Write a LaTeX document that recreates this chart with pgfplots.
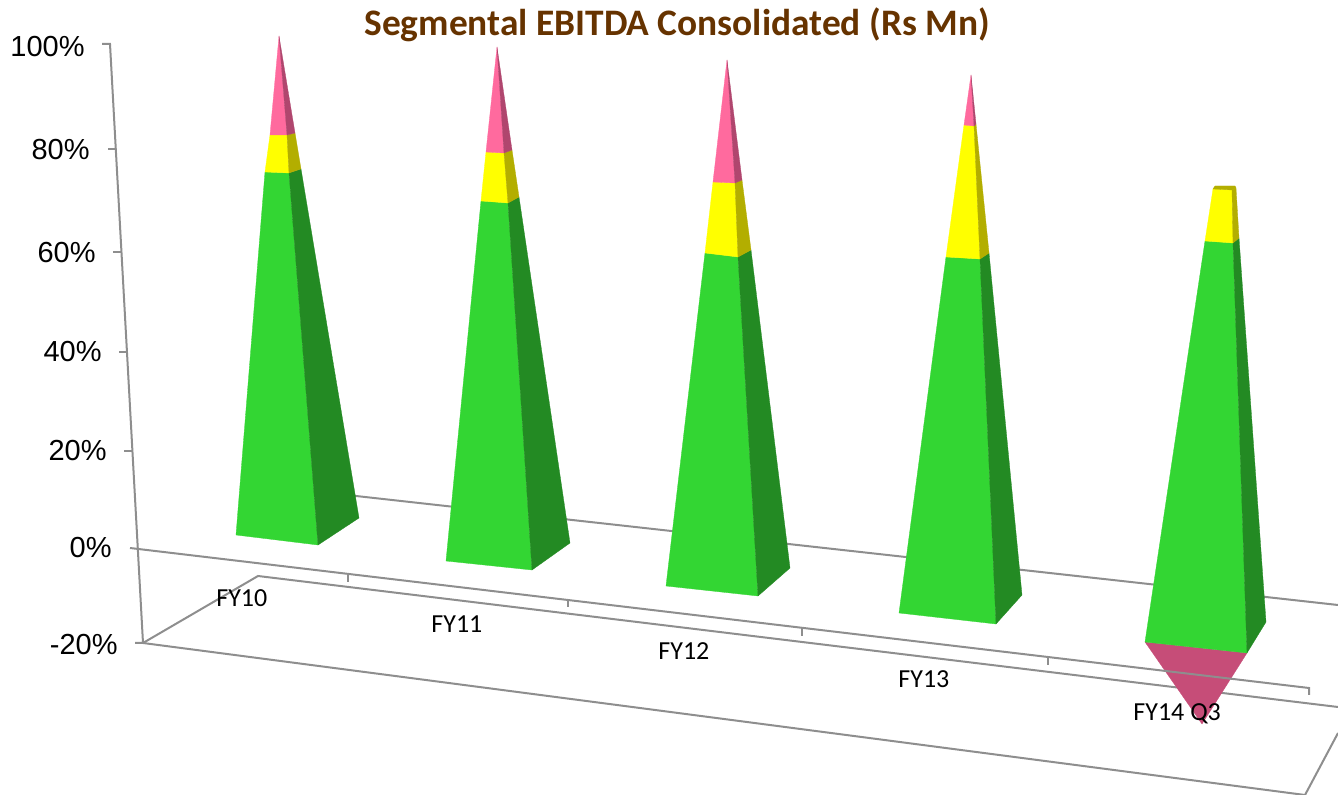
\documentclass[border=0pt]{standalone}
\usepackage{pgfplots}
\pgfplotsset{compat=1.18}
\usepackage{fontspec}
\setmainfont{Carlito}
\newfontfamily\arialfont{Liberation Sans}
\definecolor{ggreen}{HTML}{33D633}
\definecolor{dgreen}{HTML}{238A23}
\definecolor{yyellow}{HTML}{FFFF00}
\definecolor{dyellow}{HTML}{B3AE00}
\definecolor{ppink}{HTML}{FF6A9E}
\definecolor{dpink}{HTML}{B0466E}
\definecolor{npink}{HTML}{C64D78}
\definecolor{wall}{HTML}{8E8E8E}
\definecolor{ttitle}{HTML}{663300}
% filled face of a pyramid, coordinates in picture pixels
\newcommand\face[2]{\addplot[fill=#1,draw=#1,line width=0.15pt,forget plot] coordinates {#2} --cycle;}
\newcommand\wline[1]{\addplot[wall,line width=1pt,forget plot] coordinates {#1};}
\newcommand\ylab[3]{\node[anchor=base east,inner sep=0pt,font=\arialfont\fontsize{14.5}{17}\selectfont] at (axis cs:#1,#2) {#3};}
\newcommand\xlab[3]{\node[anchor=base west,inner sep=0pt,font=\fontsize{13}{15}\selectfont] at (axis cs:#1,#2) {#3};}

\begin{document}
\begin{tikzpicture}
\begin{axis}[
    scale only axis,
    width=669pt,
    height=397.5pt,
    xmin=0, xmax=1338,
    ymin=0, ymax=795,
    y dir=reverse,
    hide axis,
]
\addplot[draw=none,forget plot] coordinates {(0,0) (1338,795)};

% walls and floor
\wline{(102,44) (110,44) (143,643) (135,643)}
\wline{(108,149) (116,149)}
\wline{(113,252) (121,252)}
\wline{(119,352) (127,352)}
\wline{(124,451) (132,451)}
\wline{(143,643) (258,576) (1338,707)}
\wline{(143,643) (1305,795) (1338,733)}
\wline{(320,492) (1338,605)}

% FY10
\face{ggreen}{(236,535) (318,545) (289,173) (265,172)}
\face{dgreen}{(318,545) (359,518) (301,169) (289,173)}
\face{yyellow}{(265,172) (289,173) (287,135) (270,135)}
\face{dyellow}{(289,173) (301,169) (295,133) (287,135)}
\face{ppink}{(270,135) (287,135) (279,36)}
\face{dpink}{(287,135) (295,133) (279,36)}

% FY11
\face{ggreen}{(446,561) (532,570) (508,203) (481,201)}
\face{dgreen}{(532,570) (570,543) (519,197) (508,203)}
\face{yyellow}{(481,201) (508,203) (504,153) (486,152)}
\face{dyellow}{(508,203) (519,197) (512,150) (504,153)}
\face{ppink}{(486,152) (504,153) (497,47)}
\face{dpink}{(504,153) (512,150) (497,47)}

% FY12
\face{ggreen}{(666,586) (758,596) (738,257) (705,253)}
\face{dgreen}{(758,596) (790,568) (751,250) (738,257)}
\face{yyellow}{(705,253) (738,257) (735,183) (713,182)}
\face{dyellow}{(738,257) (751,250) (742,180) (735,183)}
\face{ppink}{(713,182) (735,183) (727,60)}
\face{dpink}{(735,183) (742,180) (727,60)}

% FY13
\face{ggreen}{(899,613) (996,624) (980,259) (946,257)}
\face{dgreen}{(996,624) (1022,595) (989,253) (980,259)}
\face{yyellow}{(946,257) (980,259) (974,126) (964,125)}
\face{dyellow}{(980,259) (989,253) (976,124) (974,126)}
\face{ppink}{(964,125) (974,126) (971,75)}
\face{dpink}{(974,126) (976,124) (971,75)}

% FY14 Q3
\face{npink}{(1145,642) (1247,653) (1202,724)}
\face{ggreen}{(1145,642) (1247,653) (1233,243) (1205,241)}
\face{dgreen}{(1247,653) (1266,622) (1239,238) (1233,243)}
\face{yyellow}{(1205,241) (1233,243) (1232,190) (1213,189)}
\face{dyellow}{(1233,243) (1239,238) (1236,188) (1232,190)}
\face{dyellow}{(1213,189) (1232,190) (1236,188) (1235,186) (1215,186)}

% category axis in front of the pyramids
\wline{(130,548) (1309,688) (1309,695)}
\wline{(348,574) (348,582)}
\wline{(568,599) (568,607)}
\wline{(802,628) (802,636)}
\wline{(1048,658) (1048,665)}

\ylab{85}{57}{100\%}
\ylab{90}{160}{80\%}
\ylab{96}{263}{60\%}
\ylab{102}{362}{40\%}
\ylab{107}{461}{20\%}
\ylab{112}{558}{0\%}
\ylab{118}{655}{-20\%}

\xlab{216}{607}{FY10}
\xlab{431}{633}{FY11}
\xlab{658}{660}{FY12}
\xlab{898}{688}{FY13}
\xlab{1133}{720}{FY14 Q3}

\node[anchor=base west,inner sep=0pt,text=ttitle,font=\bfseries\fontsize{18.7}{20}\selectfont] at (axis cs:364,36) {Segmental EBITDA Consolidated (Rs Mn)};
\end{axis}
\end{tikzpicture}
\end{document}
